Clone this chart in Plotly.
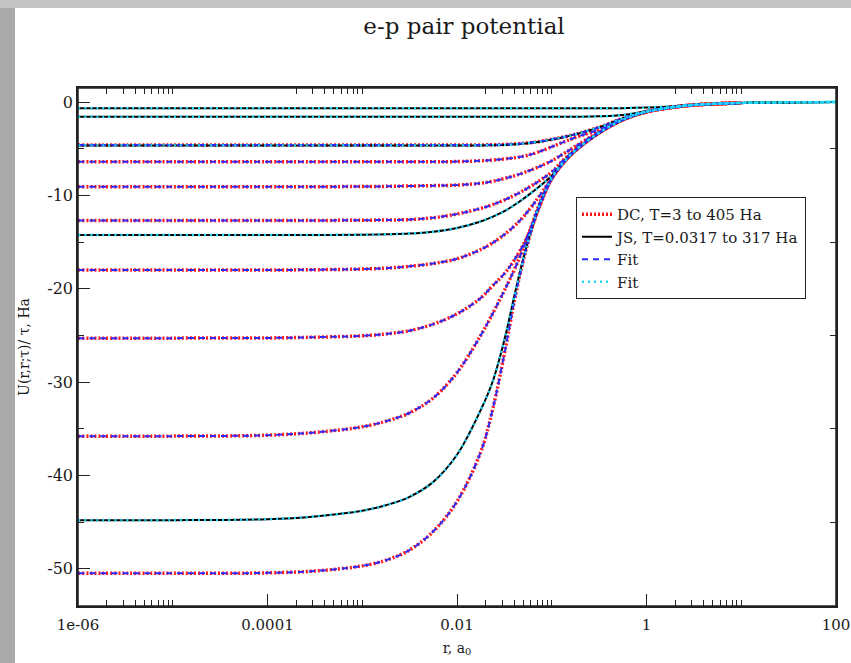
import plotly.graph_objects as go

# r grid (a0)
r_vals = [1e-6, 1e-5, 1e-4, 3.16e-4, 1e-3, 1.78e-3, 3.16e-3, 5.62e-3, 1e-2, 1.78e-2, 2.37e-2,
          3.16e-2, 4.22e-2, 5.62e-2, 7.5e-2, 0.1, 0.133, 0.178, 0.316, 0.562, 1.0, 1.78, 3.16, 10.0, 100.0]

# DC data, T = 3 to 405 Ha  (U/tau, Ha)
dc_curves = [
    [-4.6, -4.6, -4.6, -4.6, -4.6, -4.6, -4.6, -4.6, -4.6, -4.6, -4.58, -4.55, -4.48, -4.38, -4.22, -4.0, -3.75, -3.45, -2.7, -1.75, -1.02, -0.6, -0.32, -0.1, None],
    [-6.4, -6.4, -6.4, -6.4, -6.4, -6.4, -6.4, -6.4, -6.38, -6.3, -6.22, -6.1, -5.95, -5.7, -5.3, -4.8, -4.3, -3.8, -2.95, -1.85, -1.05, -0.6, -0.32, -0.1, None],
    [-9.07, -9.07, -9.07, -9.07, -9.06, -9.04, -9.0, -8.96, -8.9, -8.7, -8.5, -8.2, -7.85, -7.4, -6.9, -6.3, -5.55, -4.75, -3.2, -1.9, -1.05, -0.6, -0.32, -0.1, None],
    [-12.7, -12.7, -12.7, -12.69, -12.67, -12.64, -12.6, -12.4, -12.0, -11.4, -11.0, -10.5, -9.9, -9.2, -8.4, -7.5, -6.2, -5.1, -3.3, -1.9, -1.05, -0.6, -0.32, -0.1, None],
    [-18.0, -18.0, -18.0, -17.97, -17.9, -17.8, -17.6, -17.3, -16.8, -15.8, -15.1, -14.2, -13.1, -11.7, -10.0, -8.2, -6.5, -5.2, -3.3, -1.9, -1.05, -0.6, -0.32, -0.1, None],
    [-25.3, -25.3, -25.28, -25.2, -25.05, -24.85, -24.5, -23.8, -22.7, -21.0, -19.7, -18.4, -16.6, -14.3, -11.1, -8.2, -6.5, -5.2, -3.3, -1.9, -1.05, -0.6, -0.32, -0.1, None],
    [-35.8, -35.8, -35.7, -35.4, -34.8, -34.2, -33.3, -31.7, -29.0, -25.0, -22.7, -20.2, -17.5, -14.3, -10.8, -8.2, -6.5, -5.2, -3.3, -1.9, -1.05, -0.6, -0.32, -0.1, None],
    [-50.5, -50.5, -50.45, -50.25, -49.7, -49.1, -48.0, -46.0, -42.8, -37.5, -33.0, -27.0, -20.3, -15.0, -11.0, -8.2, -6.5, -5.2, -3.3, -1.9, -1.05, -0.6, -0.32, -0.1, None],
]

# JS data, T = 0.0317 to 317 Ha
js_curves = [
    [-0.67, -0.67, -0.67, -0.67, -0.67, -0.67, -0.67, -0.67, -0.67, -0.67, -0.67, -0.67, -0.67, -0.67, -0.67, -0.67, -0.67, -0.67, -0.67, -0.66, -0.6, -0.47, -0.29, -0.1, -0.01],
    [-1.57, -1.57, -1.57, -1.57, -1.57, -1.57, -1.57, -1.57, -1.57, -1.57, -1.57, -1.57, -1.57, -1.57, -1.57, -1.57, -1.57, -1.57, -1.54, -1.4, -0.98, -0.58, -0.31, -0.1, -0.01],
    [-4.65, -4.65, -4.65, -4.65, -4.65, -4.65, -4.65, -4.65, -4.65, -4.65, -4.63, -4.6, -4.52, -4.41, -4.25, -4.03, -3.77, -3.47, -2.72, -1.76, -1.02, -0.6, -0.32, -0.1, -0.01],
    [-14.24, -14.24, -14.24, -14.24, -14.22, -14.18, -14.1, -13.9, -13.5, -12.8, -12.3, -11.7, -10.9, -10.0, -9.0, -7.9, -6.4, -5.15, -3.3, -1.9, -1.05, -0.6, -0.32, -0.1, -0.01],
    [-44.8, -44.8, -44.7, -44.4, -43.8, -43.2, -42.3, -40.7, -37.8, -33.0, -30.0, -25.5, -19.9, -14.9, -10.9, -8.2, -6.5, -5.2, -3.3, -1.9, -1.05, -0.6, -0.32, -0.1, -0.01],
]

x_tickvals = [1e-6, 1e-4, 1e-2, 1, 100]
x_ticktext = ["1e-06", "0.0001", "0.01", "1", "100"]
x_minor = [2e-6, 3e-6, 4e-6, 5e-6, 6e-6, 7e-6, 8e-6, 9e-6, 1e-5,
           2e-4, 3e-4, 4e-4, 5e-4, 6e-4, 7e-4, 8e-4, 9e-4, 1e-3,
           2e-2, 3e-2, 4e-2, 5e-2, 6e-2, 7e-2, 8e-2, 9e-2, 1e-1,
           2, 3, 4, 5, 6, 7, 8, 9, 10]
y_tickvals = [0, -10, -20, -30, -40, -50]
y_ticktext = ["0", "-10", "-20", "-30", "-40", "-50"]
y_minor = [-5, -15, -25, -35, -45]

FONT = "DejaVu Serif"
INK = "#1a1a1a"

fig = go.Figure()

# DC data (red dots)
for i, ys in enumerate(dc_curves):
    fig.add_trace(go.Scatter(x=r_vals, y=ys, mode="lines", line_shape="spline",
                             line=dict(color="#ff1a1a", width=3.5, dash="2px,2px"),
                             name="DC, T=3 to 405 Ha", legendgroup="dc",
                             showlegend=(i == 0), connectgaps=False))
# JS (black solid)
for i, ys in enumerate(js_curves):
    fig.add_trace(go.Scatter(x=r_vals, y=ys, mode="lines", line_shape="spline",
                             line=dict(color="#000000", width=2),
                             name="JS, T=0.0317 to 317 Ha", legendgroup="js",
                             showlegend=(i == 0)))
# Fit to DC (blue dashed) - on the overlay y axis carrying the minor y ticks
for i, ys in enumerate(dc_curves):
    fig.add_trace(go.Scatter(x=r_vals, y=ys, mode="lines", line_shape="spline",
                             xaxis="x", yaxis="y2",
                             line=dict(color="#2a2aff", width=2, dash="6px,5px"),
                             name="Fit", legendgroup="fit1",
                             showlegend=(i == 0), connectgaps=False))
# Fit to JS (cyan dotted) - on the overlay x axis carrying the minor x ticks
for i, ys in enumerate(js_curves):
    fig.add_trace(go.Scatter(x=r_vals, y=ys, mode="lines", line_shape="spline",
                             xaxis="x2", yaxis="y",
                             line=dict(color="#20d8f8", width=2.5, dash="2px,4px"),
                             name="Fit", legendgroup="fit2",
                             showlegend=(i == 0)))

L, R, T, B = 78, 15, 88, 57
W, H = 851, 663
pw, ph = W - L - R, H - T - B

def px_x(p):
    return (p - L) / pw

def px_y(p):
    return (H - B - p) / ph

shapes = [
    dict(type="rect", xref="paper", yref="paper", layer="below",
         x0=px_x(-2), x1=px_x(W + 2), y0=px_y(8), y1=px_y(-2),
         fillcolor="#c4c4c4", line=dict(width=0)),
    dict(type="rect", xref="paper", yref="paper", layer="below",
         x0=px_x(-2), x1=px_x(15), y0=px_y(H + 2), y1=px_y(8),
         fillcolor="#a9a9a9", line=dict(width=0)),
    # plot frame
    dict(type="rect", xref="paper", yref="paper", layer="above",
         x0=0, x1=1, y0=0, y1=1, line=dict(color="#222222", width=1.5)),
]

Y_RANGE = [-54, 1.5]

fig.update_layout(
    width=W, height=H,
    margin=dict(l=L, r=R, t=T, b=B, autoexpand=False),
    paper_bgcolor="white",
    plot_bgcolor="white",
    shapes=shapes,
    font=dict(family=FONT, size=15, color=INK),
    title=dict(text="e-p pair potential", x=464 / W, xanchor="center",
               y=1 - 26 / H, yanchor="middle", xref="container", yref="container",
               font=dict(family=FONT, size=23, color=INK)),
    showlegend=True,
    legend=dict(x=px_x(576), y=px_y(197), xanchor="left", yanchor="top",
                bgcolor="white", bordercolor="#222222", borderwidth=1,
                font=dict(family=FONT, size=15, color=INK),
                tracegroupgap=0, itemwidth=30),
    xaxis=dict(type="log", range=[-6, 2], tickmode="array",
               tickvals=x_tickvals, ticktext=x_ticktext, automargin=False,
               ticks="inside", ticklen=12, tickwidth=1, tickcolor="#222222",
               tickfont=dict(family=FONT, size=15, color=INK),
               ticklabeloverflow="allow", ticklabelstandoff=4,
               showline=True, linecolor="#222222", linewidth=1.5, mirror=True,
               showgrid=False, zeroline=False,
               title=dict(text="r, a<sub>0</sub>", standoff=10,
                          font=dict(family=FONT, size=14, color=INK))),
    xaxis2=dict(type="log", range=[-6, 2], overlaying="x", anchor="y", side="bottom",
                tickmode="array", tickvals=x_minor, showticklabels=False,
                ticks="inside", ticklen=6, tickwidth=1, tickcolor="#222222",
                mirror="ticks", showline=False, showgrid=False, zeroline=False,
                automargin=False),
    yaxis=dict(range=Y_RANGE, tickmode="array", tickvals=y_tickvals,
               ticktext=y_ticktext, automargin=False,
               ticks="inside", ticklen=12, tickwidth=1, tickcolor="#222222",
               tickfont=dict(family=FONT, size=16, color=INK),
               showline=True, linecolor="#222222", linewidth=1.5, mirror=True,
               showgrid=False, zeroline=False,
               title=dict(text="U(r,r;τ)/ τ, Ha", standoff=14,
                          font=dict(family=FONT, size=14, color=INK))),
    yaxis2=dict(range=Y_RANGE, overlaying="y", anchor="x", side="left",
                tickmode="array", tickvals=y_minor, showticklabels=False,
                ticks="inside", ticklen=6, tickwidth=1, tickcolor="#222222",
                mirror="ticks", showline=False, showgrid=False, zeroline=False,
                automargin=False),
)

fig.write_html("out.html")
